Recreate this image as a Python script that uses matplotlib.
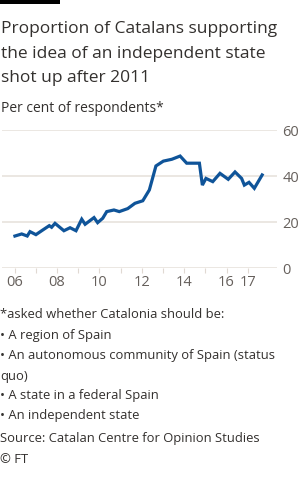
import matplotlib
matplotlib.use("Agg")
from matplotlib import pyplot as plt

# survey waves (decimal year) and share backing an independent state, %
years = [2006.02, 2006.34, 2006.60, 2006.73, 2007.01, 2007.33, 2007.64, 2007.75, 2007.91,
         2008.33, 2008.62, 2008.90, 2009.17, 2009.33, 2009.75, 2009.92, 2010.16, 2010.35,
         2010.69, 2010.94, 2011.34, 2011.68, 2012.05, 2012.36, 2012.67, 2013.02, 2013.42,
         2013.81, 2014.12, 2014.72, 2014.86, 2015.03, 2015.35, 2015.69, 2016.08, 2016.40,
         2016.71, 2016.84, 2017.06, 2017.31, 2017.68]
pct = [14.0, 14.9, 14.0, 15.9, 14.6, 16.6, 18.5, 17.8, 19.5,
       16.3, 17.6, 16.3, 21.3, 19.1, 22.0, 19.8, 21.7, 24.6,
       25.3, 24.6, 25.9, 28.2, 29.3, 34.0, 44.4, 46.5, 47.3,
       48.7, 45.6, 45.6, 36.1, 39.0, 37.6, 41.2, 38.6, 41.8,
       39.0, 36.1, 37.3, 34.7, 40.5]

tick_years = list(range(2006, 2018))
labelled = {2006: "06", 2008: "08", 2010: "10", 2012: "12", 2014: "14", 2016: "16", 2017: "17"}
yticks = [0, 20, 40, 60]

title = ["Proportion of Catalans supporting",
         "the idea of an independent state",
         "shot up after 2011"]
subtitle = "Per cent of respondents*"
notes = ["*asked whether Catalonia should be:",
         "\u2022 A region of Spain",
         "\u2022 An autonomous community of Spain (status",
         "quo)",
         "\u2022 A state in a federal Spain",
         "\u2022 An independent state",
         "Source: Catalan Centre for Opinion Studies",
         "\u00a9 FT"]

plt.rcParams['font.family'] = ['Open Sans', 'DejaVu Sans']
W, H = 300, 486
fig = plt.figure(figsize=(W/100, H/100), dpi=100)
fig.patch.set_facecolor('white')

def px(x, y):
    return x/W, 1 - y/H

# axes box in pixels: x 2..277, y 130..268.3
ax = fig.add_axes([2/W, 1 - 268.3/H, 275/W, 138.3/H])
ax.plot(years, pct, color='#0f5499', lw=2.3, solid_joinstyle='miter', zorder=3)
ax.set_xlim(2005.41, 2018.38)
ax.set_ylim(0, 60)
for v in yticks:
    ax.axhline(v, color='#e6e0da', lw=1.1, zorder=1)
for s in ax.spines.values():
    s.set_visible(False)
ax.yaxis.tick_right()
ax.set_yticks(yticks)
ax.tick_params(axis='y', length=0, pad=4, labelsize=10.5, labelcolor='#66605c')
ax.set_xticks(tick_years)
ax.set_xticklabels([labelled.get(y, "") for y in tick_years])
ax.tick_params(axis='x', length=3.5, width=0.8, color='#e0d9d2', pad=1.5,
               labelsize=10.5, labelcolor='#66605c')
ax.set_facecolor('none')

# black bar top left
fig.add_artist(plt.Rectangle(px(0, 4), 60/W, 4/H, transform=fig.transFigure,
                             facecolor='black', edgecolor='none'))

for t, y in zip(title, [33, 57.5, 82]):
    fig.text(*px(1, y), t, fontsize=12.5, color='#33302e', va='baseline', ha='left')
fig.text(*px(1, 112), subtitle, fontsize=10, color='#33302e', va='baseline', ha='left')

ny = [315, 335, 355, 376, 395, 415, 438, 459]
for t, y in zip(notes, ny):
    fig.text(*px(0, y), t, fontsize=9.4, color='#33302e', va='center', ha='left')

fig.savefig("out.png", dpi=100, facecolor='white')
